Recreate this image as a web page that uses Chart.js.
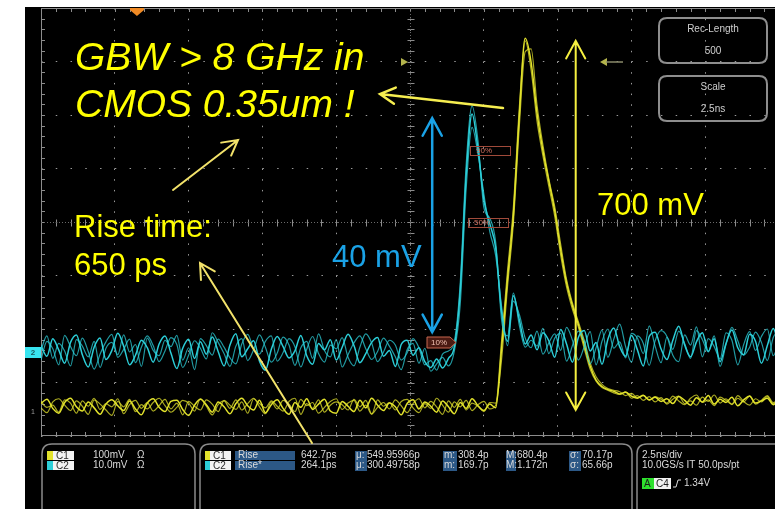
<!DOCTYPE html>
<html>
<head>
<meta charset="utf-8">
<script src="https://cdn.jsdelivr.net/npm/chart.js@4.4.1/dist/chart.umd.min.js"></script>
<style>
  html, body { margin: 0; padding: 0; background: #fff; overflow: hidden; }
  canvas { display: block; }
</style>
</head>
<body>
<canvas id="osciloscopio" width="775" height="509"></canvas>
<script>
// base de tempo: 2.5 ns/div, amostras a cada 0.2 ns
const AMOSTRA_NS = 0.2;
const TEMPO_MAX_NS = 24.86;
const DISPARO_NS = 3.25;

// C1 (amarelo) em mV, 100 mV/div
const amareloA = [
  12, 20, 3, -6, 14, 22, 6, -2, 15, 4,
  -8, 11, 19, 8, -1, 17, 2, -9, 13, 21,
  5, -3, 16, 18, 1, -10, 9, 20, 10, -4,
  15, 6, -7, 12, 22, 8, 0, 18, -5, 10,
  19, 3, -8, 14, 5, 21, 1, 11, 20, -2,
  -6, 16, 7, -3, 18, 4, 22, 9, -1, 13,
  6, -9, 12, 19, 2, 15, 7, -4, 17, 6,
  -7, 14, 3, 21, 8, -1, 11,
  4, 115, 245, 365, 550, 695, 650, 555, 485, 428,
  372, 300, 238, 195, 160, 122, 82, 56, 44, 38,
  35, 30, 33, 26, 22, 27, 19, 24, 16, 21,
  12, 25, 18, 9, 23, 15, 27, 11, 20, 14,
  24, 8, 19, 26, 13, 17, 22, 10, 18
];
const amareloB = [
  4, -5, 15, 21, 9, -1, 17, 7, -8, 19,
  11, 0, -10, 16, 6, 20, -3, 10, 2, 14,
  22, 8, -4, 5, 18, 13, -2, 21, 7, -9,
  10, 17, 3, 19, 0, 12, 22, 6, -7, 15,
  2, 18, 11, -3, 20, 8, 14, -6, 5, 16,
  21, 1, 13, 18, -2, 9, -8, 19, 7, 14,
  0, 16, 20, 4, -5, 12, 3, 22, 9, -4,
  15, 6, 18, -1, 10, 16, 2,
  9, 95, 230, 350, 530, 670, 675, 570, 495, 432,
  380, 310, 244, 200, 165, 130, 88, 62, 48, 40,
  37, 34, 27, 31, 23, 28, 18, 25, 20, 13,
  26, 17, 10, 22, 28, 14, 19, 8, 24, 18,
  11, 27, 16, 9, 21, 15, 25, 12, 19
];
const amareloC = [
  16, 5, 9, -4, 19, 13, -6, 17, 7, 22,
  1, 12, 6, 21, -7, 10, 18, 3, 14, -2,
  8, 20, 2, 13, -9, 16, 7, 0, 19, 11,
  -3, 18, 9, 1, 15, -6, 21, 12, 4, 17,
  7, -2, 16, 22, -8, 12, 3, 19, -4, 9,
  15, 10, 0, 20, 6, 18, -7, 5, 14, 2,
  19, 8, -5, 12, 21, 4, 16, 6, -8, 17,
  5, 20, 0, 13, 7, -3, 14,
  13, 130, 260, 380, 565, 690, 635, 540, 475, 418,
  362, 290, 230, 188, 155, 115, 76, 54, 42, 37,
  32, 29, 34, 22, 27, 18, 25, 15, 23, 11,
  20, 26, 12, 17, 9, 24, 16, 28, 13, 21,
  10, 22, 15, 26, 11, 18, 27, 14, 20
];

// C2 (ciano) em mV, 10 mV/div
const cianoA = [
  1.2, -0.8, 2.5, 0.4, -2.1, 1.8, 3.2, -0.5, -2.8, 0.9,
  2.6, -1.4, 0.3, 3.5, 1.1, -2.4, -0.6, 2.2, 0.8, -1.9,
  1.5, 3.0, -0.2, -3.1, 0.7, 2.4, -1.2, 1.9, -0.4, 2.8,
  0.1, -2.6, 1.3, 3.4, -0.9, 0.6, 2.1, -1.7, -3.4, 0.5,
  2.9, 1.0, -1.1, 0.2, 3.1, -0.7, -2.3, 1.6, 0.4, 2.3,
  -1.5, 0.9, 3.3, 1.2, -2.0, -0.3, 1.8, 2.7, -0.8, 0.3,
  -2.7, 1.4, 2.2, -0.6, 0.8, -1.8, -2.9, -1.3, -3.0, -1.2,
  1.0, 11.5, 33.0, 44.5, 38.0, 28.5, 24.0, 19.5, 7.5, 2.0,
  10.5, 6.0, 1.5, 3.2,
  0.4, 3.6, 2.1, -1.0, 4.2, 1.5, -1.9, 2.7, 4.0, 0.2,
  1.8, -2.3, 2.4, 4.5, 1.0, -0.8, 3.1, 0.4, -2.6, 2.9,
  3.7, 0.6, -1.4, 2.2, 4.8, 1.3, -0.9, 1.9, 3.6, 0.1,
  2.5, -1.8, 1.6, 4.1, 0.8, -0.5, 3.3, 2.0, -2.1, 1.2,
  4.4, 0.9
];
const cianoB = [
  -1.5, 2.0, 0.6, -2.4, 3.1, 1.0, -0.7, 2.6, 0.1, -3.2,
  -0.4, 1.9, 3.3, -1.0, 0.5, 2.4, -2.0, 0.9, 3.0, 1.2,
  -1.8, 0.2, 2.7, 1.4, -2.9, -0.6, 2.1, 0.7, -1.3, 3.6,
  1.8, -0.3, -2.7, 1.1, 2.5, -1.6, 0.4, 3.2, 0.9, -1.9,
  -0.2, 2.8, 1.3, -2.5, 0.8, 2.0, -1.2, 3.4, 0.3, -0.9,
  2.3, -2.8, -0.5, 1.7, 3.0, 0.6, -1.4, 0.1, 2.6, 1.1,
  -0.9, -3.3, 0.4, 1.6, -2.1, 0.7, -3.6, -2.2, -1.0, -2.6,
  0.2, 9.0, 30.5, 42.0, 37.0, 29.5, 22.5, 18.0, 8.5, 1.2,
  9.5, 7.0, 2.6, 0.8,
  3.9, -0.4, 1.7, 3.4, 0.3, 4.6, 2.2, -1.5, 1.0, 3.8,
  -2.4, 2.0, 4.3, 0.7, 1.9, -1.1, 3.5, 2.6, -0.3, 4.9,
  1.1, -2.0, 2.8, 0.5, 3.9, 1.6, -1.2, 4.0, 2.3, 0.0,
  3.0, -2.7, 1.4, 4.6, 2.1, -0.6, 0.9, 3.7, 1.8, -1.6,
  2.7, 4.2
];
const cianoC = [
  0.4, 3.0, -1.2, 1.6, 0.2, -2.6, 2.3, 1.1, -0.9, 2.0,
  -2.9, 0.7, 1.8, -0.5, 3.2, 0.0, 1.4, -2.7, 2.6, 0.3,
  -0.7, 2.2, 1.0, 3.1, -1.5, 0.8, -3.3, 2.5, 1.2, -0.6,
  2.4, 0.9, -1.1, -2.2, 1.5, 3.3, 0.6, -0.4, 2.0, 3.0,
  -1.7, -0.1, 2.5, 1.0, -2.8, 0.5, 2.9, -0.3, -1.9, 1.3,
  0.6, 2.7, -1.0, -2.6, 0.9, 3.4, 1.7, -1.8, 0.0, 2.2,
  1.3, -1.5, -0.2, 2.5, 0.8, -2.4, -1.6, -3.4, -0.4, 0.2,
  2.0, 13.0, 35.0, 46.0, 39.5, 27.0, 25.0, 20.5, 6.0, 3.0,
  11.0, 5.0, 0.9, 2.2,
  1.1, 4.4, -0.3, 2.6, 3.5, -1.7, 1.2, 3.9, 2.0, -2.2,
  0.8, 4.1, -1.0, 2.4, 5.2, 1.0, -1.9, 3.0, 1.6, -2.5,
  2.1, 4.0, 2.9, -0.6, -1.8, 3.2, 1.3, 4.7, -0.9, 2.5,
  1.0, -1.3, 3.6, 2.2, -2.4, 1.4, 3.8, 0.3, 2.9, 4.3,
  -0.7, 2.0
];

// setas de amplitude (em unidades do canal)
const setaC1 = { t: 18.11, de: 0, ate: 690 };
const setaC2 = { t: 13.25, de: 3.7, ate: 43.7 };

const tempoNs = amareloA.map((_, i) => +(i * AMOSTRA_NS).toFixed(1));

const AMARELO = 'rgb(226,226,44)';
const CIANO = 'rgb(44,206,216)';

function traco(valores, cor, eixo, largura) {
  return {
    data: valores.map((v, i) => ({ x: tempoNs[i], y: v })),
    yAxisID: eixo,
    borderColor: cor,
    borderWidth: largura,
    pointRadius: 0,
    cubicInterpolationMode: 'monotone',
    fill: false
  };
}

function seta(ctx, x1, y1, x2, y2, cor, largura, cab) {
  const ang = Math.atan2(y2 - y1, x2 - x1);
  ctx.strokeStyle = cor;
  ctx.lineWidth = largura;
  ctx.lineCap = 'round';
  ctx.beginPath();
  ctx.moveTo(x1, y1);
  ctx.lineTo(x2, y2);
  ctx.moveTo(x2 - cab * Math.cos(ang - 0.5), y2 - cab * Math.sin(ang - 0.5));
  ctx.lineTo(x2, y2);
  ctx.lineTo(x2 - cab * Math.cos(ang + 0.5), y2 - cab * Math.sin(ang + 0.5));
  ctx.stroke();
}

function setaDupla(ctx, x, y1, y2, cor, largura) {
  seta(ctx, x, (y1 + y2) / 2, x, y1, cor, largura, 20);
  seta(ctx, x, (y1 + y2) / 2, x, y2, cor, largura, 20);
}

function caixa(ctx, x, y, w, h, r) {
  ctx.beginPath();
  ctx.moveTo(x + r, y);
  ctx.lineTo(x + w - r, y);
  ctx.quadraticCurveTo(x + w, y, x + w, y + r);
  ctx.lineTo(x + w, y + h - r);
  ctx.quadraticCurveTo(x + w, y + h, x + w - r, y + h);
  ctx.lineTo(x + r, y + h);
  ctx.quadraticCurveTo(x, y + h, x, y + h - r);
  ctx.lineTo(x, y + r);
  ctx.quadraticCurveTo(x, y, x + r, y);
  ctx.closePath();
}

const fundo = {
  id: 'fundo',
  beforeDraw(chart) {
    const ctx = chart.ctx;
    ctx.save();
    ctx.fillStyle = '#fff';
    ctx.fillRect(0, 0, chart.width, chart.height);
    ctx.fillStyle = '#000';
    ctx.fillRect(25, 7, chart.width - 25, chart.height - 7);
    ctx.restore();
  }
};

const reticula = {
  id: 'reticula',
  beforeDatasetsDraw(chart) {
    const { ctx, chartArea: a, scales } = chart;
    const divX = scales.x.getPixelForValue(2.5) - scales.x.getPixelForValue(0);
    const divY = scales.y.getPixelForValue(0) - scales.y.getPixelForValue(1);
    const cx = Math.round(scales.x.getPixelForValue(12.5)) + 0.5;
    const cy = Math.round(scales.y.getPixelForValue(0)) + 0.5;
    ctx.save();
    ctx.strokeStyle = '#8c8c8c';
    ctx.lineWidth = 1;
    ctx.beginPath();
    ctx.moveTo(a.left + 0.5, a.top); ctx.lineTo(a.left + 0.5, a.bottom);
    ctx.moveTo(a.left, a.top + 0.5); ctx.lineTo(a.right, a.top + 0.5);
    ctx.moveTo(a.left, a.bottom - 0.5); ctx.lineTo(a.right, a.bottom - 0.5);
    for (let k = 1; a.left + k * divX / 5 < a.right; k++) {
      const px = Math.round(a.left + k * divX / 5) + 0.5;
      ctx.moveTo(px, a.top); ctx.lineTo(px, a.top + 4);
      ctx.moveTo(px, a.bottom - 4); ctx.lineTo(px, a.bottom);
      ctx.moveTo(px, cy - 3); ctx.lineTo(px, cy + 4);
    }
    for (let k = 1; k < 40; k++) {
      const py = Math.round(a.top + k * divY / 5) + 0.5;
      ctx.moveTo(a.left, py); ctx.lineTo(a.left + 4, py);
      ctx.moveTo(cx - 3, py); ctx.lineTo(cx + 4, py);
    }
    ctx.stroke();
    ctx.setLineDash([1, 2]);
    ctx.strokeStyle = '#6a6a6a';
    ctx.beginPath();
    ctx.moveTo(a.left, cy); ctx.lineTo(a.right, cy);
    ctx.moveTo(cx, a.top); ctx.lineTo(cx, a.bottom);
    ctx.stroke();
    ctx.restore();
  }
};

const marcadores = {
  id: 'marcadores',
  afterDatasetsDraw(chart) {
    const { ctx, chartArea: a, scales } = chart;
    ctx.save();
    // disparo
    const xt = scales.x.getPixelForValue(DISPARO_NS);
    ctx.fillStyle = '#f08a24';
    ctx.beginPath();
    ctx.moveTo(xt - 7, a.top); ctx.lineTo(xt + 7, a.top); ctx.lineTo(xt + 7, a.top + 2);
    ctx.lineTo(xt, a.top + 8); ctx.lineTo(xt - 7, a.top + 2); ctx.closePath();
    ctx.fill();
    // terra dos canais
    const y2 = scales.c2.getPixelForValue(0);
    ctx.fillStyle = '#38e4f0';
    ctx.fillRect(25, y2 - 5, 16, 11);
    ctx.fillStyle = '#1a5a60';
    ctx.font = 'bold 8px "Liberation Sans"';
    ctx.textAlign = 'center';
    ctx.textBaseline = 'middle';
    ctx.fillText('2', 33, y2 + 0.5);
    const y1 = scales.c1.getPixelForValue(0);
    ctx.fillStyle = '#9a9a9a';
    ctx.font = '7px "Liberation Sans"';
    ctx.fillText('1', 33, y1 + 2);
    // marcas de nivel
    ctx.fillStyle = '#b4b44c';
    ctx.beginPath();
    ctx.moveTo(401, 58); ctx.lineTo(408, 62); ctx.lineTo(401, 66); ctx.closePath();
    ctx.fill();
    ctx.beginPath();
    ctx.moveTo(607, 58); ctx.lineTo(600, 62); ctx.lineTo(607, 66); ctx.closePath();
    ctx.fill();
    ctx.strokeStyle = '#8a8a6a';
    ctx.lineWidth = 1.5;
    ctx.beginPath(); ctx.moveTo(606, 62); ctx.lineTo(623, 62); ctx.stroke();
    // rotulos de medida
    ctx.font = '8px "Liberation Sans"';
    ctx.textAlign = 'left';
    ctx.fillStyle = '#4a1a12';
    ctx.strokeStyle = '#c8664e';
    ctx.lineWidth = 1;
    ctx.beginPath();
    ctx.moveTo(427, 337); ctx.lineTo(450, 337); ctx.lineTo(456, 342.5); ctx.lineTo(450, 348); ctx.lineTo(427, 348); ctx.closePath();
    ctx.fill(); ctx.stroke();
    ctx.fillStyle = '#f2c2b2';
    ctx.fillText('10%', 431, 343);
    ctx.fillStyle = '#d07060';
    ctx.fillText('90%', 476, 151);
    ctx.fillText('50%', 474, 223);
    ctx.strokeStyle = '#a04a3a';
    ctx.strokeRect(470.5, 146.5, 40, 9);
    ctx.strokeRect(468.5, 218.5, 40, 9);
    // caixas no canto
    ctx.strokeStyle = '#8e8e8e';
    ctx.lineWidth = 2;
    caixa(ctx, 659, 18, 108, 45, 8); ctx.stroke();
    caixa(ctx, 659, 76, 108, 45, 8); ctx.stroke();
    ctx.fillStyle = '#cfcfcf';
    ctx.font = '10px "Liberation Sans"';
    ctx.textAlign = 'center';
    ctx.fillText('Rec-Length', 713, 29);
    ctx.fillText('500', 713, 51);
    ctx.fillText('Scale', 713, 87);
    ctx.fillText('2.5ns', 713, 109);
    ctx.restore();
  }
};

const painel = {
  id: 'painel',
  afterDraw(chart) {
    const ctx = chart.ctx;
    ctx.save();
    ctx.strokeStyle = '#8a8a8a';
    ctx.lineWidth = 1.5;
    caixa(ctx, 42, 444, 153, 80, 10); ctx.stroke();
    caixa(ctx, 200, 444, 432, 80, 10); ctx.stroke();
    caixa(ctx, 637, 444, 160, 80, 10); ctx.stroke();

    ctx.font = '10px "Liberation Sans"';
    ctx.textBaseline = 'middle';
    const linhas = [455.5, 465.5];
    const cores = [AMARELO, CIANO];
    const nomes = ['C1', 'C2'];

    function etiqueta(x, y, texto) {
      ctx.fillStyle = '#f2f2f2';
      ctx.fillRect(x, y - 4.5, 21, 9);
      ctx.fillStyle = '#2a2a2a';
      ctx.fillText(texto, x + 3, y + 0.5);
    }

    linhas.forEach((y, i) => {
      ctx.fillStyle = cores[i];
      ctx.fillRect(47, y - 4.5, 6, 9);
      etiqueta(53, y, nomes[i]);
      ctx.fillStyle = cores[i];
      ctx.fillRect(205, y - 4.5, 5, 9);
      etiqueta(210, y, nomes[i]);
      ctx.fillStyle = '#2c5886';
      ctx.fillRect(235, y - 4.5, 60, 9);
    });
    ctx.fillRect(355, 451, 12, 20);
    ctx.fillRect(443, 451, 14, 20);
    ctx.fillRect(506, 451, 10, 20);
    ctx.fillRect(569, 451, 12, 20);

    ctx.fillStyle = '#dadada';
    const textos = [
      ['100mV', 93, 0], ['Ω', 137, 0], ['10.0mV', 93, 1], ['Ω', 137, 1],
      ['Rise', 238, 0], ['Rise*', 238, 1],
      ['642.7ps', 301, 0], ['264.1ps', 301, 1],
      ['μ:', 356, 0], ['549.95966p', 367, 0], ['μ:', 356, 1], ['300.49758p', 367, 1],
      ['m:', 444, 0], ['308.4p', 458, 0], ['m:', 444, 1], ['169.7p', 458, 1],
      ['M:', 506, 0], ['680.4p', 517, 0], ['M:', 506, 1], ['1.172n', 517, 1],
      ['σ:', 570, 0], ['70.17p', 582, 0], ['σ:', 570, 1], ['65.66p', 582, 1],
      ['2.5ns/div', 642, 0], ['10.0GS/s IT 50.0ps/pt', 642, 1]
    ];
    textos.forEach(([t, x, l]) => ctx.fillText(t, x, linhas[l]));

    ctx.fillStyle = '#2ee02e';
    ctx.fillRect(642, 478, 12, 11);
    ctx.fillStyle = '#f2f2f2';
    ctx.fillRect(654, 478, 17, 11);
    ctx.fillStyle = '#1a1a1a';
    ctx.fillText('A', 644, 484);
    ctx.fillText('C4', 656, 484);
    ctx.strokeStyle = '#dadada';
    ctx.lineWidth = 1;
    ctx.beginPath();
    ctx.moveTo(673, 487); ctx.lineTo(676, 487); ctx.lineTo(678, 480); ctx.lineTo(681, 480);
    ctx.stroke();
    ctx.fillStyle = '#dadada';
    ctx.fillText('1.34V', 684, 483);
    ctx.restore();
  }
};

const notas = {
  id: 'notas',
  afterDraw(chart) {
    const { ctx, scales } = chart;
    ctx.save();
    ctx.textBaseline = 'alphabetic';
    ctx.textAlign = 'left';
    ctx.fillStyle = '#ffff00';
    ctx.font = 'italic 39px "Liberation Sans"';
    ctx.fillText('GBW > 8 GHz in', 75, 70);
    ctx.fillText('CMOS 0.35um !', 75, 117);
    ctx.font = '31px "Liberation Sans"';
    ctx.fillText('Rise time:', 74, 237);
    ctx.fillText('650 ps', 74, 275);
    ctx.fillText('700 mV', 597, 215);
    ctx.fillStyle = '#1aa2e6';
    ctx.fillText('40 mV', 332, 267);

    const xa = scales.x.getPixelForValue(setaC1.t);
    setaDupla(ctx, xa, scales.c1.getPixelForValue(setaC1.ate), scales.c1.getPixelForValue(setaC1.de), '#f6f040', 2);
    const xc = scales.x.getPixelForValue(setaC2.t);
    setaDupla(ctx, xc, scales.c2.getPixelForValue(setaC2.ate), scales.c2.getPixelForValue(setaC2.de), '#1aa2e6', 2.5);

    seta(ctx, 173, 190, 238, 140, '#f2e26a', 2, 17);
    seta(ctx, 503, 108, 380, 94, '#f6ee50', 2.5, 17);
    seta(ctx, 312, 443, 200, 263, '#f2e26a', 2, 17);
    ctx.restore();
  }
};

const ctx = document.getElementById('osciloscopio').getContext('2d');
new Chart(ctx, {
  type: 'line',
  data: {
    datasets: [
      traco(cianoA, CIANO, 'c2', 1.5),
      traco(cianoB, 'rgba(44,206,216,0.75)', 'c2', 1.2),
      traco(cianoC, 'rgba(44,206,216,0.75)', 'c2', 1.2),
      traco(amareloA, AMARELO, 'c1', 1.5),
      traco(amareloB, 'rgba(226,226,44,0.75)', 'c1', 1.2),
      traco(amareloC, 'rgba(226,226,44,0.75)', 'c1', 1.2)
    ]
  },
  options: {
    responsive: false,
    animation: false,
    devicePixelRatio: 1,
    layout: { padding: { left: 41, top: 8, right: 0, bottom: 73 } },
    plugins: { legend: { display: false }, tooltip: { enabled: false } },
    scales: {
      x: {
        type: 'linear', min: 0, max: TEMPO_MAX_NS,
        ticks: { display: false, stepSize: 2.5 },
        grid: { color: '#9a9a9a', drawTicks: false },
        border: { display: false, dash: [1.5, 9.2] }
      },
      y: {
        min: -4, max: 4,
        ticks: { display: false, stepSize: 1 },
        grid: { color: '#9a9a9a', drawTicks: false },
        border: { display: false, dash: [1.5, 13.26] }
      },
      c1: { display: false, min: -48.6, max: 751.4 },
      c2: { display: false, min: -15.7, max: 64.3 }
    }
  },
  plugins: [fundo, reticula, marcadores, painel, notas]
});
</script>
</body>
</html>
